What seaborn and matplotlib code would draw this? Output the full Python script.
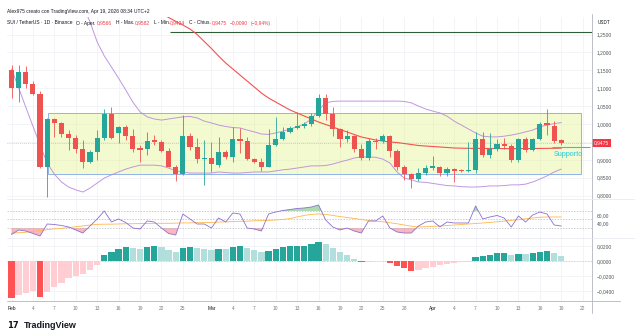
import matplotlib
matplotlib.use("Agg")
import matplotlib.pyplot as plt
import matplotlib.transforms as mtransforms
from matplotlib.lines import Line2D
from matplotlib.patches import Rectangle
import seaborn as sns
import numpy as np
import pandas as pd

sns.set_theme(style="white")
plt.rcParams['font.family'] = ['Liberation Sans', 'DejaVu Sans']

W, H = 635, 333

# ---- data (daily candles, Feb 1 -> Apr 19) ----
days = np.arange(78)
opens = [1.151, 1.100, 1.146, 1.111, 1.083, 0.881, 1.013, 1.004, 0.971, 0.962,
         0.929, 0.895, 0.923, 0.960, 1.028, 0.974, 0.991, 0.966, 0.932, 0.929,
         0.955, 0.950, 0.925, 0.881, 0.860, 0.966, 0.935, 0.902, 0.904, 0.885,
         0.923, 0.909, 0.957, 0.953, 0.901, 0.893, 0.879, 0.941, 0.957, 0.978,
         0.990, 0.994, 1.000, 1.022, 1.072, 1.028, 0.985, 0.957, 0.966, 0.931,
         0.904, 0.953, 0.953, 0.966, 0.925, 0.881, 0.860, 0.846, 0.862, 0.878,
         0.879, 0.862, 0.873, 0.871, 0.870, 0.872, 0.957, 0.913, 0.929, 0.943,
         0.939, 0.899, 0.957, 0.927, 0.957, 1.002, 0.995, 0.9566]
highs = [1.165, 1.165, 1.162, 1.120, 1.092, 1.017, 1.016, 1.006, 0.983, 0.969,
         0.955, 0.927, 0.983, 1.041, 1.047, 0.994, 0.996, 0.985, 0.941, 0.978,
         0.969, 0.955, 0.933, 0.885, 1.025, 0.975, 0.961, 0.955, 0.950, 0.965,
         0.927, 0.991, 0.988, 0.965, 0.906, 0.904, 0.986, 1.020, 0.993, 0.995,
         1.034, 1.006, 1.030, 1.083, 1.083, 1.048, 0.990, 0.983, 0.970, 0.945,
         0.960, 0.960, 0.972, 0.970, 0.930, 0.885, 0.862, 0.876, 0.885, 0.911,
         0.883, 0.879, 0.876, 0.874, 0.950, 0.978, 0.978, 0.974, 0.957, 0.960,
         0.943, 0.962, 0.964, 0.960, 1.006, 1.041, 1.009, 0.9582]
lows = [1.073, 1.062, 1.100, 1.081, 0.876, 0.796, 0.965, 0.963, 0.927, 0.918,
        0.876, 0.890, 0.899, 0.955, 0.958, 0.948, 0.955, 0.923, 0.895, 0.913,
        0.941, 0.922, 0.879, 0.842, 0.858, 0.927, 0.891, 0.830, 0.867, 0.881,
        0.902, 0.895, 0.918, 0.899, 0.891, 0.870, 0.879, 0.939, 0.955, 0.976,
        0.987, 0.990, 0.995, 1.020, 1.011, 0.966, 0.937, 0.951, 0.923, 0.899,
        0.900, 0.930, 0.948, 0.909, 0.872, 0.844, 0.820, 0.840, 0.858, 0.872,
        0.855, 0.855, 0.839, 0.866, 0.866, 0.862, 0.909, 0.904, 0.925, 0.930,
        0.895, 0.895, 0.922, 0.924, 0.955, 0.969, 0.948, 0.9424]
closes = [1.100, 1.146, 1.111, 1.083, 0.881, 1.013, 1.004, 0.972, 0.962, 0.929,
          0.895, 0.921, 0.960, 1.028, 0.960, 0.991, 0.966, 0.929, 0.927, 0.953,
          0.950, 0.925, 0.881, 0.860, 0.966, 0.937, 0.901, 0.906, 0.888, 0.923,
          0.909, 0.957, 0.953, 0.901, 0.895, 0.879, 0.941, 0.957, 0.978, 0.990,
          0.994, 1.000, 1.022, 1.072, 1.028, 0.985, 0.957, 0.966, 0.929, 0.904,
          0.953, 0.950, 0.966, 0.925, 0.881, 0.860, 0.846, 0.862, 0.878, 0.883,
          0.862, 0.873, 0.870, 0.870, 0.872, 0.957, 0.913, 0.929, 0.943, 0.939,
          0.899, 0.957, 0.927, 0.957, 0.999, 0.997, 0.953, 0.9475]

nan = np.nan
bb_upper = [nan] * 9 + [
    1.400, 1.332, 1.285, 1.229, 1.190, 1.159, 1.128, 1.095, 1.061, 1.034,
    1.020, 1.014, 1.011, 1.014, 1.017, 1.020, 1.021, 1.017, 1.008, 1.003,
    0.997, 0.993, 0.990, 0.989, 0.983, 0.978, 0.972, 0.971, 0.975, 0.980,
    0.986, 0.992, 1.000, 1.014, 1.039, 1.059, 1.063, 1.064, 1.064, 1.064,
    1.064, 1.064, 1.064, 1.064, 1.064, 1.064, 1.063, 1.059, 1.050, 1.042,
    1.036, 1.031, 1.022, 1.008, 0.997, 0.986, 0.975, 0.966, 0.964, 0.964,
    0.966, 0.969, 0.973, 0.978, 0.983, 0.992, 0.997, 1.001, 1.004]
bb_lower = [1.154, 1.101, 1.047, 0.994, 0.941, 0.891, 0.860, 0.838, 0.824, 0.816,
            0.810, 0.821, 0.835, 0.849, 0.858, 0.866, 0.874, 0.880, 0.885, 0.885,
            0.885, 0.883, 0.877, 0.869, 0.866, 0.863, 0.863, 0.863, 0.863, 0.866,
            0.8645, 0.863, 0.863, 0.8645, 0.866, 0.866, 0.866, 0.869, 0.872, 0.874,
            0.877, 0.880, 0.883, 0.883, 0.884, 0.888, 0.894, 0.899, 0.905, 0.908,
            0.908, 0.907, 0.902, 0.891, 0.866, 0.849, 0.844, 0.838, 0.837, 0.834,
            0.831, 0.828, 0.827, 0.825, 0.824, 0.824, 0.825, 0.827, 0.827, 0.828,
            0.830, 0.830, 0.832, 0.838, 0.846, 0.855, 0.866, 0.874]
ma_red = [nan] * 21 + [
    1.309, 1.2975, 1.2869, 1.2765, 1.2654, 1.250, 1.2304, 1.2109, 1.190, 1.1704,
    1.1536, 1.1369, 1.1201, 1.1034, 1.0866, 1.0726, 1.0615, 1.0503, 1.0391, 1.0307,
    1.0223, 1.014, 1.0056, 0.9986, 0.9916, 0.9846, 0.9777, 0.9707, 0.9637, 0.9595,
    0.9553, 0.9525, 0.9497, 0.9483, 0.9455, 0.9427, 0.9399, 0.9385, 0.9371, 0.9358,
    0.9344, 0.933, 0.9325, 0.932, 0.932, 0.9318, 0.9316, 0.9314, 0.9313, 0.9312,
    0.9312, 0.9313, 0.9315, 0.9318, 0.932, 0.9322, 0.9325]

rsi = [14.7, 25.3, 22.9, 17.1, 11.2, 39.4, 38.2, 35.9, 32.4, 25.3,
       18.2, 34.7, 51.2, 70.0, 44.1, 51.2, 42.9, 30.0, 27.6, 46.5,
       44.1, 30.0, 17.1, 13.5, 62.9, 51.2, 39.4, 39.4, 30.0, 53.5,
       44.1, 65.3, 62.9, 30.0, 27.6, 22.9, 62.9, 67.6, 71.2, 73.5,
       75.9, 77.1, 79.4, 84.1, 48.8, 32.4, 25.3, 30.0, 22.9, 18.2,
       46.5, 46.5, 58.2, 30.0, 20.6, 18.2, 18.2, 34.7, 44.1, 46.5,
       32.4, 44.1, 41.8, 41.8, 41.8, 81.8, 51.2, 55.9, 59.4, 53.5,
       32.4, 58.2, 44.1, 60.6, 67.6, 62.9, 37.1, 34.7]
rsi_ma = [18, 19, 20, 22, 24, 26, 28, 29, 31, 33,
          35, 37, 38.5, 39, 39, 39.5, 40, 40, 40.5, 40.5,
          41, 41, 41, 41.5, 42, 42, 42.5, 42.7, 43, 44,
          44.5, 45, 45.8, 46, 47, 47.6, 48, 48.8, 50, 52,
          56, 59.5, 62, 63, 62, 59.5, 57, 54.7, 52.4, 50,
          47.6, 46, 44.6, 42.2, 40, 37, 34.2, 32.4, 33, 33.8,
          34.7, 35.9, 37, 38.2, 39.4, 40.6, 41.8, 43.2, 44.6, 46.2,
          47.9, 49.5, 51.6, 53.5, 55.4, 55.9, 55.9, 55.9]

macd_hist = [-0.0489, -0.0453, -0.0431, -0.0400, -0.0476, -0.0410, -0.0342, -0.0289, -0.0231, -0.0200,
             -0.0173, -0.0120, -0.0053, 0.0080, 0.0116, 0.0160, 0.0182, 0.0169, 0.0160, 0.0182,
             0.0200, 0.0182, 0.0147, 0.0116, 0.0169, 0.0190, 0.0169, 0.0160, 0.0147, 0.0160,
             0.0160, 0.0190, 0.0204, 0.0169, 0.0147, 0.0116, 0.0138, 0.0160, 0.0182, 0.0198,
             0.0202, 0.0204, 0.0222, 0.0249, 0.0227, 0.0169, 0.0116, 0.0076, 0.0027, -0.0018,
             -0.0010, -0.0004, -0.0002, -0.0031, -0.0067, -0.0089, -0.0129, -0.0120, -0.0098, -0.0076,
             -0.0053, -0.0040, -0.0027, -0.0018, -0.0009, 0.0049, 0.0067, 0.0080, 0.0102, 0.0111,
             0.0080, 0.0093, 0.0089, 0.0102, 0.0124, 0.0133, 0.0102, 0.0071]

tick_days = [0, 3, 6, 9, 12, 15, 18, 21, 24, 28, 31, 34, 37, 40, 43, 46, 49, 52, 55,
             59, 62, 65, 68, 71, 74, 77, 80]
tick_labels = ['Feb', '4', '7', '10', '13', '16', '19', '22', '25', 'Mar', '4', '7', '10',
               '13', '16', '19', '22', '25', '28', 'Apr', '4', '7', '10', '13', '16', '19', '22']
price_ticks = [0.80, 0.85, 0.90, 0.95, 1.00, 1.05, 1.10, 1.15, 1.20, 1.25]
price_labels = ['0,8000', '0,8500', '0,9000', '', '1,0000', '1,0500', '1,1000',
                '1,1500', '1,2000', '1,2500']
rsi_ticks = [40, 60]
rsi_labels = ['40,00', '60,00']
macd_ticks = [-0.04, -0.02, 0.0, 0.02]
macd_labels = ['\u22120,0400', '\u22120,0200', '0,0000', '0,0200']

last_price = 0.9475
range_box = (5.11, 79.76, 0.859, 1.030)   # day0, day1, low, high
top_level = 1.257
support_level = 0.9358

# ---- colours ----
UP, DOWN = '#26a69a', '#ef5350'
GRID = '#f0f2f6'
TXT = '#50535e'
RED = '#f23645'
INK = '#131722'

fig = plt.figure(figsize=(W / 100, H / 100), dpi=100)
fig.patch.set_facecolor('white')


def px_axes(x0, y0, x1, y1):
    return fig.add_axes([x0 / W, 1 - y1 / H, (x1 - x0) / W, (y1 - y0) / H])


XL = ((7 - 11.5) / 7.14, (592 - 11.5) / 7.14)
ax = px_axes(7, 17, 592, 199)
ax_rsi = px_axes(7, 199, 592, 238)
ax_macd = px_axes(7, 238, 592, 301)

for a in (ax, ax_rsi, ax_macd):
    a.set_facecolor('white')
    a.set_xlim(*XL)
    a.set_xticks(tick_days)
    a.grid(axis='x', color=GRID, lw=0.6)
    a.yaxis.tick_right()
    a.tick_params(axis='both', length=0, labelsize=3.5, labelcolor=TXT, pad=3.5)
    a.tick_params(axis='x', labelbottom=False)
    for s in a.spines.values():
        s.set_visible(False)

# ---- main price pane ----
ax.set_ylim(0.7905, 1.2989)
ax.set_yticks(price_ticks)
ax.set_yticklabels(price_labels)
ax.grid(axis='y', color=GRID, lw=0.6)

x0, x1, lo, hi = range_box
ax.add_patch(Rectangle((x0, lo), x1 - x0, hi - lo, facecolor='#e3f284', alpha=0.38,
                       edgecolor='none', zorder=1))
ax.add_patch(Rectangle((x0, lo), x1 - x0, hi - lo, facecolor='none',
                       edgecolor='#8fb3ee', lw=0.7, zorder=2))

ax.hlines(top_level, 22.2, XL[1], color='#2f5e3a', lw=0.8, zorder=2)
ax.axhline(last_price, color=RED, ls=(0, (1, 2)), lw=0.5, alpha=0.6, zorder=2)

sns.lineplot(x=days, y=bb_upper, ax=ax, color='#b585dc', lw=0.7, alpha=0.85, zorder=3)
sns.lineplot(x=days, y=bb_lower, ax=ax, color='#b585dc', lw=0.7, alpha=0.85, zorder=3)
sns.lineplot(x=days, y=ma_red, ax=ax, color='#f4514f', lw=0.8, zorder=3)

o, h, l, c = (np.array(v) for v in (opens, highs, lows, closes))
col = np.where(c >= o, UP, DOWN)
ax.vlines(days, l, h, colors=col, lw=0.6, zorder=4)
body = np.maximum(np.abs(c - o), 0.0018)
ax.bar(days, body, bottom=np.minimum(o, c), width=0.72, color=col, lw=0, zorder=5)

ax.hlines(support_level, 75.7, 81.0, color='#26c6da', lw=0.8, zorder=6)
ax.text(75.9, support_level - 0.010, 'Supporto', color='#26c6da', fontsize=5.2,
        va='top', ha='left', zorder=6)

tr = mtransforms.blended_transform_factory(ax.transAxes, ax.transData)
ax.text(1.0 + 2 / 585, last_price, '0,9475', transform=tr, color='white', fontsize=3.5,
        ha='left', va='center',
        bbox=dict(boxstyle='square,pad=0.35', fc=RED, ec='none'), zorder=10, clip_on=False)
ax.set_xlabel('')
ax.set_ylabel('')

# ---- RSI pane ----
ax_rsi.set_ylim(6.47, 98.2)
ax_rsi.set_yticks(rsi_ticks)
ax_rsi.set_yticklabels(rsi_labels)
for lvl in (70, 50, 30):
    ax_rsi.axhline(lvl, color='#b2b5be', ls=(0, (2, 2)), lw=0.5)
r = np.array(rsi)
ax_rsi.fill_between(days, r, 70, where=r > 70, interpolate=True, color='#4caf50',
                    alpha=0.45, lw=0)
ax_rsi.fill_between(days, r, 30, where=r < 30, interpolate=True, color=RED,
                    alpha=0.35, lw=0)
sns.lineplot(x=days, y=rsi_ma, ax=ax_rsi, color='#ffb74d', lw=0.6)
sns.lineplot(x=days, y=rsi, ax=ax_rsi, color='#8c6fd1', lw=0.6)
ax_rsi.set_xlabel('')
ax_rsi.set_ylabel('')

# ---- MACD histogram pane ----
ax_macd.set_ylim(-0.0533, 0.0307)
ax_macd.set_yticks(macd_ticks)
ax_macd.set_yticklabels(macd_labels)
ax_macd.grid(axis='y', color=GRID, lw=0.6)
ax_macd.axhline(0, color='#c4c6cc', ls=(0, (2, 2)), lw=0.5)
hist = np.array(macd_hist)
prev = np.concatenate([[0], hist[:-1]])
hcol = []
for i, v in enumerate(hist):
    if v >= 0:
        hcol.append('#26a69a' if v > prev[i] else '#b2dfdb')
    else:
        hcol.append('#ff5252' if (v < prev[i] or i == 0) else '#ffcdd2')
ax_macd.bar(days, hist, width=0.88, color=hcol, lw=0, zorder=3)
ax_macd.set_xticklabels(tick_labels)
ax_macd.tick_params(axis='x', labelbottom=True, pad=3.5, labelsize=3.5, labelcolor='#787b86')
for t in ax_macd.get_xticklabels():
    if t.get_text() in ('Feb', 'Mar', 'Apr'):
        t.set_color(INK)

# ---- frame lines ----
def fig_line(xa, ya, xb, yb, **kw):
    fig.add_artist(Line2D([xa / W, xb / W], [1 - ya / H, 1 - yb / H], **kw))

fig_line(592, 14, 592, 313, color='#b2b5be', lw=0.6)
fig_line(7, 301, 620, 301, color='#b2b5be', lw=0.6)
fig_line(7, 199, 635, 199, color='#e6e8ee', lw=0.5)
fig_line(7, 238, 635, 238, color='#e6e8ee', lw=0.5)

# ---- header text ----
fig.text(7 / W, 1 - 11 / H, 'Alex975 creato con TradingView.com, Apr 19, 2026 08:34 UTC+2',
         fontsize=3.5, color=INK, va='center')

header = [('SUI / TetherUS \u00b7 1D \u00b7 Binance', INK, 4),
          ('O - Aper.', INK, 0.5), ('0,9566', RED, 4),
          ('H - Max.', INK, 0.5), ('0,9582', RED, 4),
          ('L - Min.', INK, 0.5), ('0,9424', RED, 4),
          ('C - Chius.', INK, 0.5), ('0,9475', RED, 3),
          ('\u22120,0090', RED, 2.5), ('(\u22120,94%)', RED, 0)]
renderer = fig.canvas.get_renderer()
xp = 7.0
for txt, cc, gap in header:
    t = fig.text(xp / W, 1 - 23 / H, txt, fontsize=3.5, color=cc, va='center', zorder=20)
    xp = t.get_window_extent(renderer).x1 + gap
fig.text(598 / W, 1 - 22 / H, 'USDT', fontsize=3.3, color=INK, va='center')

# ---- logo ----
fig.text(7 / W, 1 - 325 / H, '17', fontsize=6.0, fontweight='heavy', color=INK,
         family='DejaVu Sans', va='center')
fig.text(24 / W, 1 - 325 / H, 'TradingView', fontsize=6.5, fontweight='bold',
         color=INK, va='center')

fig.savefig('out.png', dpi=100, facecolor='white')
